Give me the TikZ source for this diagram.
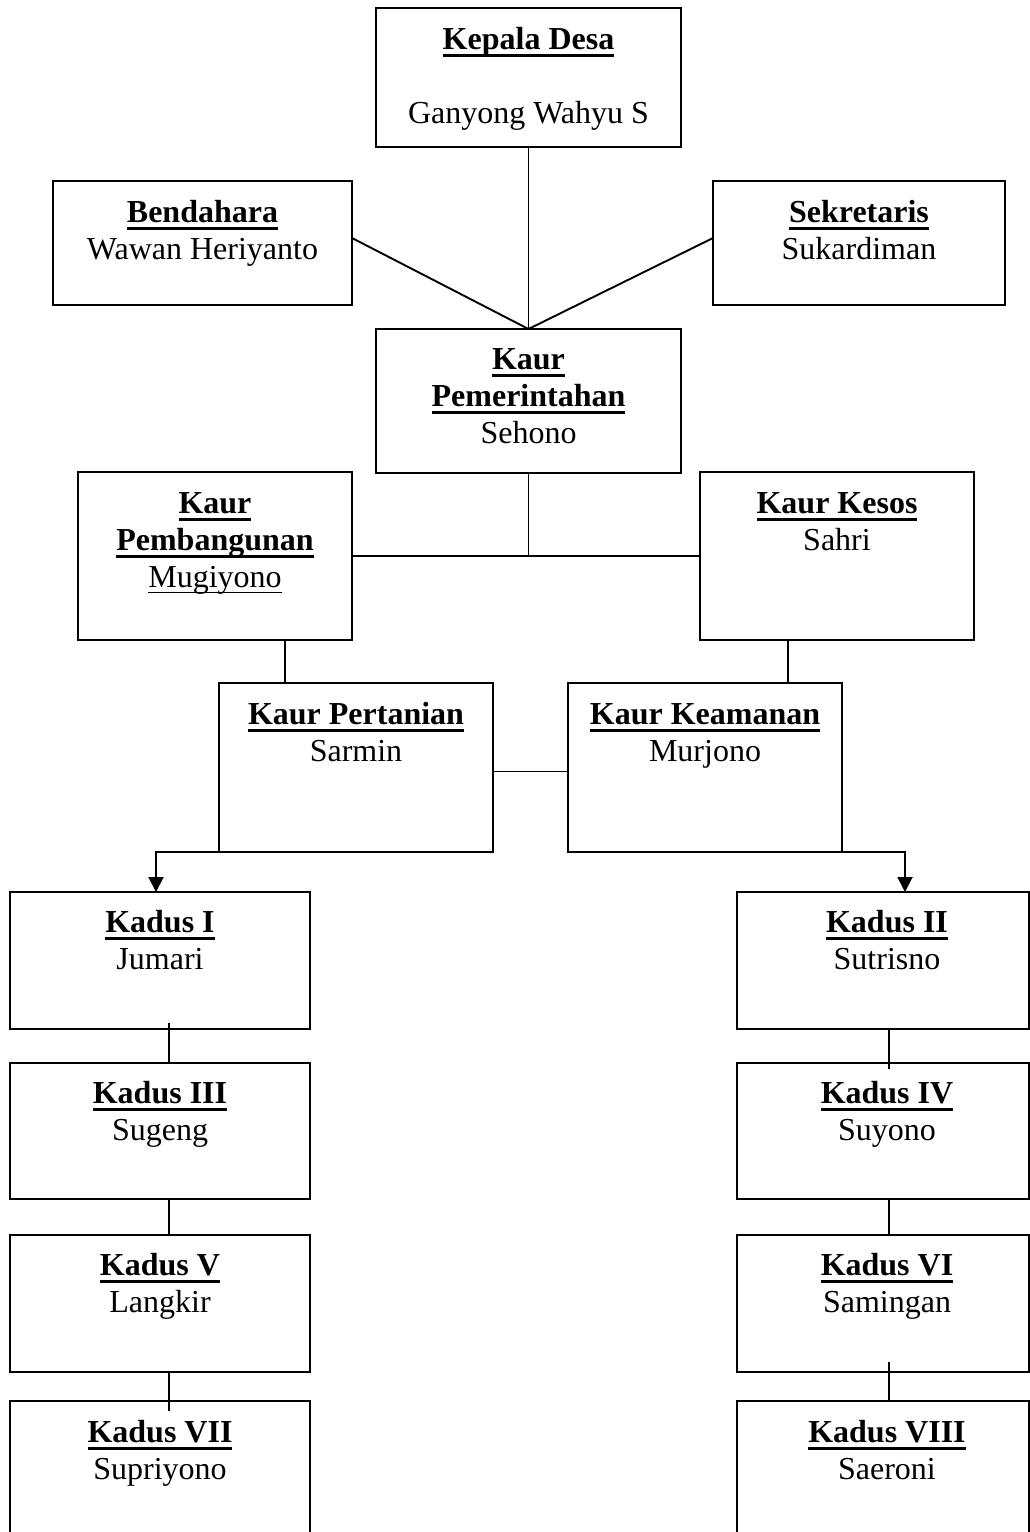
\documentclass[tikz,border=0pt]{standalone}
\usepackage{fontspec}
\setmainfont{Liberation Serif}
\usetikzlibrary{arrows.meta,calc}
\newsavebox\ulbox
\newcommand\ulb[1]{\sbox\ulbox{\textbf{#1}}\rlap{\rule[-7pt]{\wd\ulbox}{3pt}}\usebox\ulbox}
\newcommand\ulr[1]{\sbox\ulbox{#1}\rlap{\rule[-5.5pt]{\wd\ulbox}{1.8pt}}\usebox\ulbox}
\tikzset{
  box/.style={draw=black, line width=2pt, inner sep=0pt, outer sep=0pt, rectangle},
  txt/.style={anchor=north, inner sep=0pt, outer sep=0pt, align=center, font=\fontsize{32pt}{37pt}\selectfont},
  conn/.style={draw=black, line width=1.9pt},
  arr/.style={conn, -{Triangle[width=15pt,length=15pt]}}
}
\begin{document}
\begin{tikzpicture}[x=1pt,y=-1pt]
\useasboundingbox (0,0) rectangle (1030,1532);
\begin{scope}
\clip (0,0) rectangle (1030,1532);
% boxes
\node[box, minimum width=305pt, minimum height=139pt] (kd) at (528.5,77.5) {};
\node[box, minimum width=299pt, minimum height=124pt] (bend) at (202.5,243) {};
\node[box, minimum width=292pt, minimum height=124pt] (sek) at (859,243) {};
\node[box, minimum width=305pt, minimum height=144pt] (kp) at (528.5,401) {};
\node[box, minimum width=274pt, minimum height=168pt] (pemb) at (215,556) {};
\node[box, minimum width=274pt, minimum height=168pt] (kesos) at (837,556) {};
\node[box, minimum width=274pt, minimum height=169pt] (pert) at (356,767.5) {};
\node[box, minimum width=274pt, minimum height=169pt] (keam) at (705,767.5) {};
\node[box, minimum width=300pt, minimum height=137pt] (k1) at (160,960.5) {};
\node[box, minimum width=292pt, minimum height=137pt] (k2) at (883,960.5) {};
\node[box, minimum width=300pt, minimum height=136pt] (k3) at (160,1131) {};
\node[box, minimum width=292pt, minimum height=136pt] (k4) at (883,1131) {};
\node[box, minimum width=300pt, minimum height=137pt] (k5) at (160,1303.5) {};
\node[box, minimum width=292pt, minimum height=137pt] (k6) at (883,1303.5) {};
\node[box, minimum width=300pt, minimum height=159pt] (k7) at (160,1480.5) {};
\node[box, minimum width=292pt, minimum height=159pt] (k8) at (883,1480.5) {};
% texts
\node[txt] (kdT) at ($(kd.north)+(0,16)$) {\strut\ulb{Kepala Desa}\\[37pt]Ganyong Wahyu S};
\node[txt] (bendT) at ($(bend.north)+(0,16)$) {\strut\ulb{Bendahara}\\Wawan Heriyanto};
\node[txt] (sekT) at ($(sek.north)+(0,16)$) {\strut\ulb{Sekretaris}\\Sukardiman};
\node[txt] (kpT) at ($(kp.north)+(0,15)$) {\strut\ulb{Kaur}\\\ulb{Pemerintahan}\\Sehono};
\node[txt] (pembT) at ($(pemb.north)+(0,16)$) {\strut\ulb{Kaur}\\\ulb{Pembangunan}\\\ulr{Mugiyono}};
\node[txt] (kesosT) at ($(kesos.north)+(0,16)$) {\strut\ulb{Kaur Kesos}\\Sahri};
\node[txt] (pertT) at ($(pert.north)+(0,16)$) {\strut\ulb{Kaur Pertanian}\\Sarmin};
\node[txt] (keamT) at ($(keam.north)+(0,16)$) {\strut\ulb{Kaur Keamanan}\\Murjono};
\node[txt] (k1T) at ($(k1.north)+(0,15)$) {\strut\ulb{Kadus I}\\Jumari};
\node[txt] (k2T) at ($(k2.north)+(4,15)$) {\strut\ulb{Kadus II}\\Sutrisno};
\node[txt] (k3T) at ($(k3.north)+(0,15)$) {\strut\ulb{Kadus III}\\Sugeng};
\node[txt] (k4T) at ($(k4.north)+(4,15)$) {\strut\ulb{Kadus IV}\\Suyono};
\node[txt] (k5T) at ($(k5.north)+(0,15)$) {\strut\ulb{Kadus V}\\Langkir};
\node[txt] (k6T) at ($(k6.north)+(4,15)$) {\strut\ulb{Kadus VI}\\Samingan};
\node[txt] (k7T) at ($(k7.north)+(0,16)$) {\strut\ulb{Kadus VII}\\Supriyono};
\node[txt] (k8T) at ($(k8.north)+(4,16)$) {\strut\ulb{Kadus VIII}\\Saeroni};
% connectors
\coordinate (xl) at (285,0);
\coordinate (xr) at (788,0);
\coordinate (al) at (156,0);
\coordinate (ar) at (905,0);
\coordinate (kl) at (169,0);
\coordinate (kr) at (889,0);
\draw[conn] (kd.south) -- (kp.north);
\draw[conn] ($(bend.east)+(0,-5)$) -- (kp.north);
\draw[conn] ($(sek.west)+(0,-5)$) -- (kp.north);
\draw[conn] (kp.south) -- (kp.south |- pemb.east);
\draw[conn] (pemb.east) -- (kesos.west);
\draw[conn] (pemb.south -| xl) -- (pert.north -| xl);
\draw[conn] (kesos.south -| xr) -- (keam.north -| xr);
\draw[conn] ($(pert.east)+(0,4)$) -- ($(keam.west)+(0,4)$);
\draw[arr] (pert.south west) -| (k1.north -| al);
\draw[arr] (keam.south east) -| (k2.north -| ar);
\draw[conn] ($(k1.south -| kl)+(0,-6)$) -- (k3.north -| kl);
\draw[conn] (k2.south -| kr) -- ($(k4.north -| kr)+(0,6)$);
\draw[conn] (k3.south -| kl) -- (k5.north -| kl);
\draw[conn] (k4.south -| kr) -- (k6.north -| kr);
\draw[conn] (k5.south -| kl) -- ($(k7.north -| kl)+(0,10)$);
\draw[conn] ($(k6.south -| kr)+(0,-10)$) -- (k8.north -| kr);
\end{scope}
\end{tikzpicture}
\end{document}
